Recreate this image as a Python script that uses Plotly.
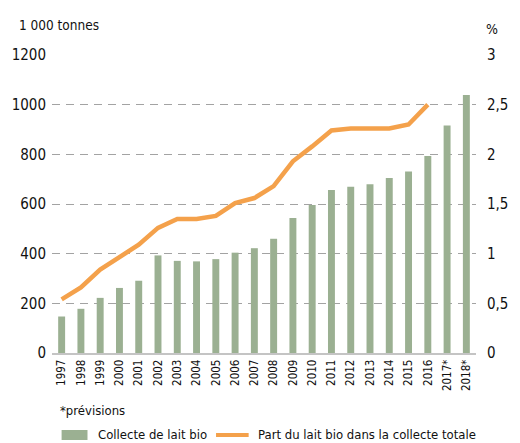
import plotly.graph_objects as go

YEARS = ["1997", "1998", "1999", "2000", "2001", "2002", "2003", "2004", "2005", "2006", "2007",
         "2008", "2009", "2010", "2011", "2012", "2013", "2014", "2015", "2016", "2017*", "2018*"]
# Collecte de lait bio, 1 000 tonnes
COLLECTE = [147, 178, 222, 262, 291, 393, 371, 369, 378, 404, 422,
            460, 544, 596, 656, 669, 680, 705, 731, 793, 916, 1039]
# Part du lait bio dans la collecte totale, %
PART = [0.54, 0.66, 0.84, 0.97, 1.09, 1.26, 1.35, 1.35, 1.38, 1.51, 1.56,
        1.68, 1.93, 2.08, 2.24, 2.26, 2.26, 2.26, 2.30, 2.50, None, None]

LEFT_TICKS = [0, 200, 400, 600, 800, 1000, 1200]
RIGHT_TICKS = [0, 0.5, 1, 1.5, 2, 2.5, 3]
RIGHT_LABELS = ["0", "0,5", "1", "1,5", "2", "2,5", "3"]

GREEN = "#9bb092"
ORANGE = "#f4a14b"
FONT = "DejaVu Sans Condensed"
INK = "#111111"

fig = go.Figure()
fig.add_trace(go.Bar(
    x=YEARS, y=COLLECTE, name="Collecte de lait bio",
    marker=dict(color=GREEN, line=dict(width=0)),
    width=0.36, showlegend=False,
))
fig.add_trace(go.Scatter(
    x=YEARS, y=PART, name="Part du lait bio dans la collecte totale",
    mode="lines", line=dict(color=ORANGE, width=4.5),
    yaxis="y2", connectgaps=False, showlegend=False,
))

# plot area: x 48..490 px, y 55..353 px
def px(x):
    return (x - 48) / 442

def py(y):
    return (353 - y) / 298

# legend drawn by hand (wide swatches)
fig.add_shape(type="rect", xref="paper", yref="paper",
              x0=px(58), x1=px(85), y0=py(440), y1=py(430),
              fillcolor=GREEN, line=dict(width=0))
fig.add_shape(type="line", xref="paper", yref="paper",
              x0=px(219), x1=px(253), y0=py(435), y1=py(435),
              line=dict(color=ORANGE, width=4))

annots = [
    dict(text="Collecte de lait bio", x=px(94), y=py(434), size=13),
    dict(text="Part du lait bio dans la collecte totale", x=px(261), y=py(434), size=13),
    dict(text="*prévisions", x=px(54), y=py(410), size=13),
    dict(text="1 000 tonnes", x=px(11), y=py(25), size=13.5),
    dict(text="%", x=px(498), y=py(29), size=14),
]
for a in annots:
    fig.add_annotation(
        text=a["text"], x=a["x"], y=a["y"], xref="paper", yref="paper",
        xanchor="left", yanchor="middle", showarrow=False,
        font=dict(family=FONT, color=INK, size=a["size"]),
    )

fig.update_layout(
    width=520, height=443,
    margin=dict(l=48, r=30, t=55, b=90),
    paper_bgcolor="white", plot_bgcolor="white",
    font=dict(family=FONT, color=INK),
    bargap=0.64,
    xaxis=dict(
        type="category", tickangle=-90, tickfont=dict(size=11.5),
        showline=True, linecolor="#c4c4c4", linewidth=2,
        ticks="", showgrid=False,
    ),
    yaxis=dict(
        range=[0, 1200], tickvals=LEFT_TICKS, tickfont=dict(size=15),
        showgrid=True, gridcolor="#a3a3a3", gridwidth=1.2, griddash="8px,6px",
        zeroline=False, ticks="", ticklabelstandoff=5,
    ),
    yaxis2=dict(
        range=[0, 3], overlaying="y", side="right",
        tickvals=RIGHT_TICKS, ticktext=RIGHT_LABELS, tickfont=dict(size=15),
        showgrid=False, zeroline=False, ticks="", ticklabelstandoff=10,
    ),
)

fig.write_html("out.html", config={"displayModeBar": False},
               post_script="document.body.style.margin='0';")
